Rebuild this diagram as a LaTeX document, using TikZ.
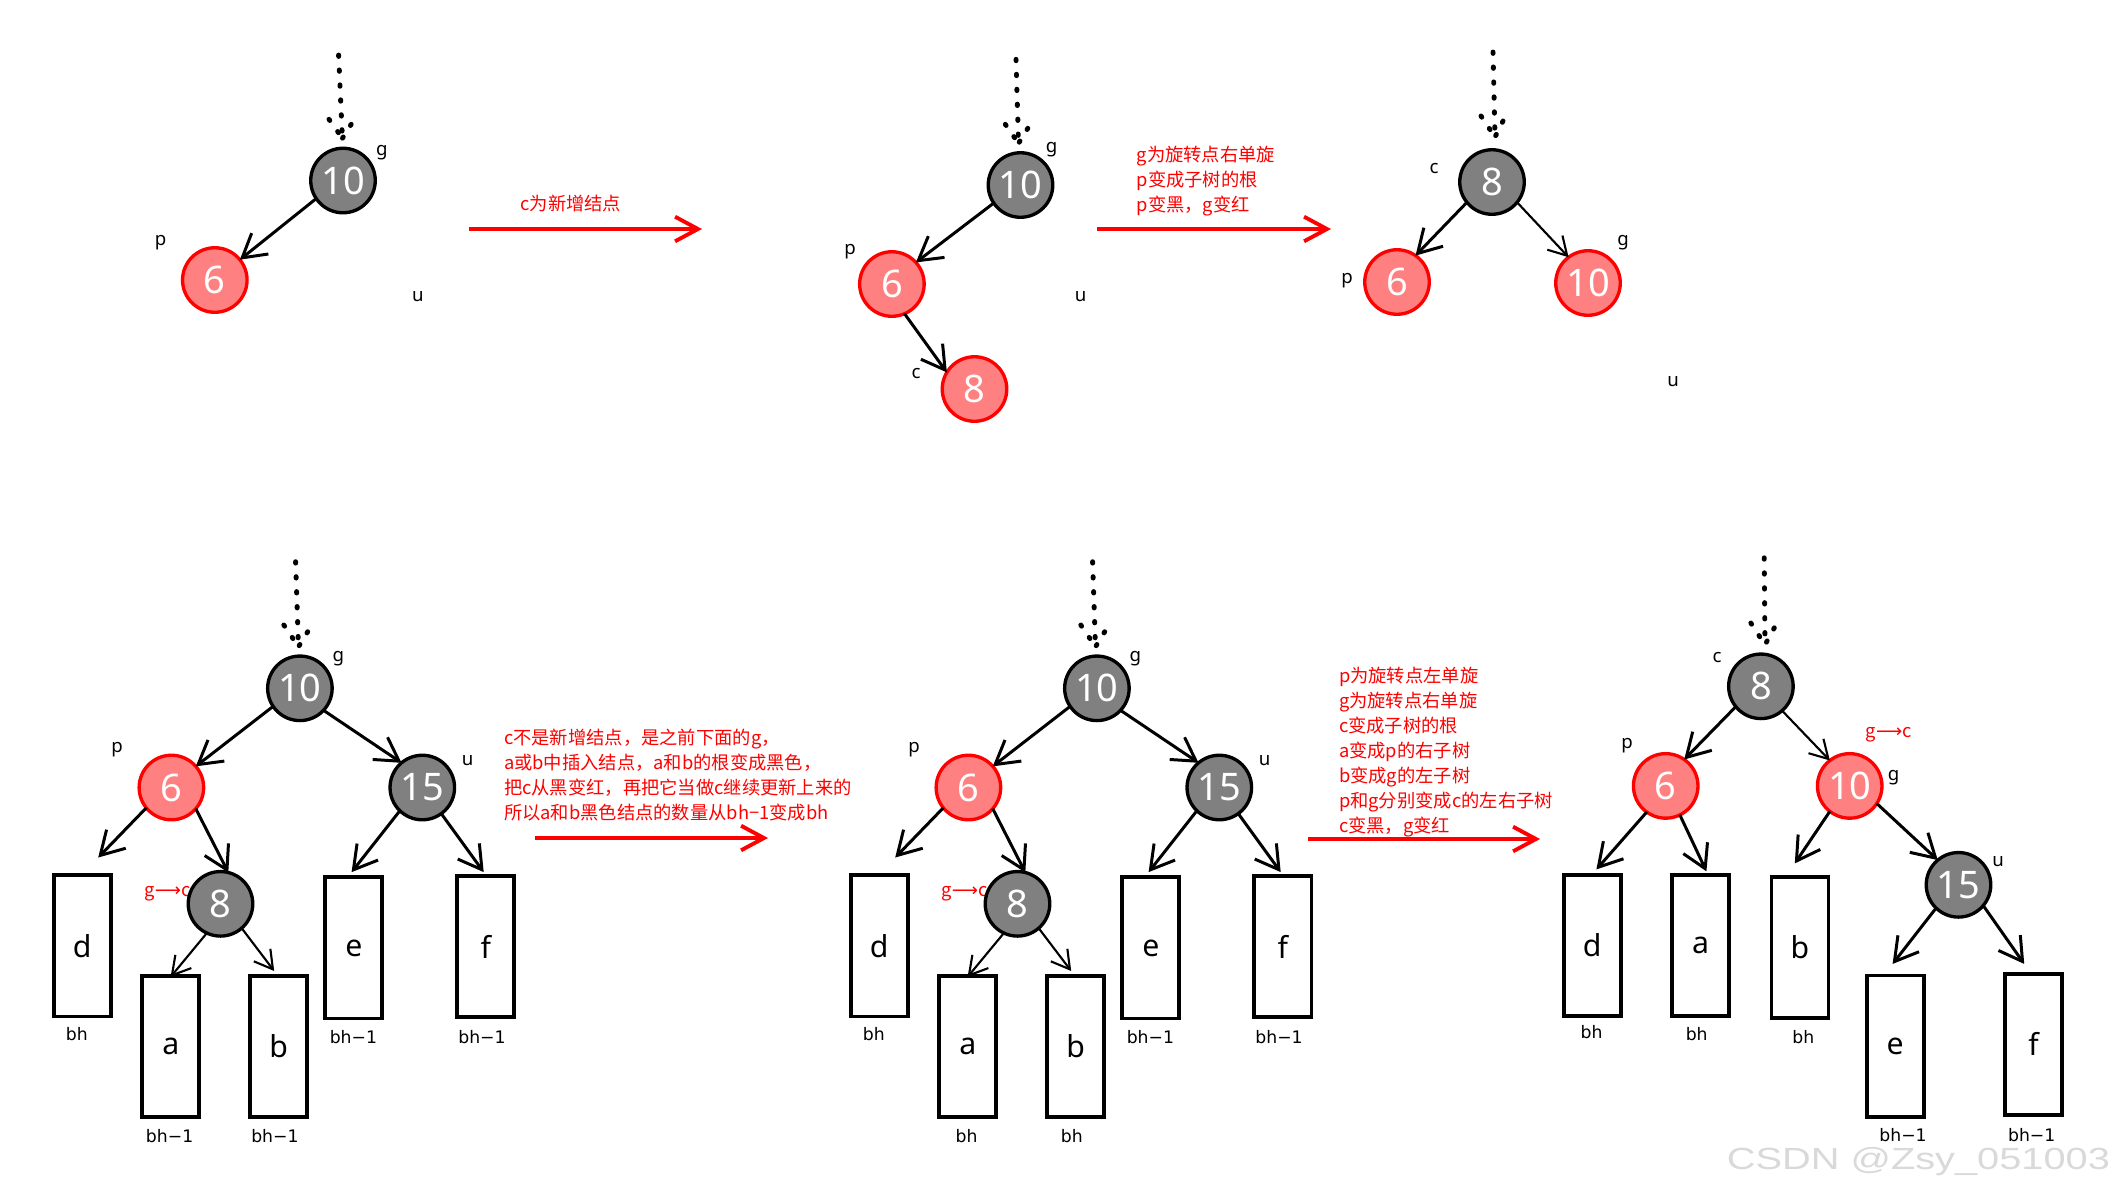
\documentclass[tikz,border=0pt]{standalone}
\usepackage{fontspec}
\setmainfont{Noto Sans}
\newfontfamily\cjk{Noto Sans CJK SC}
\newfontfamily\dejavu{DejaVu Sans}
\newfontfamily\libsans{Liberation Sans}
\usetikzlibrary{shapes.geometric,arrows.meta}
\definecolor{ngray}{HTML}{808080}
\definecolor{nred}{HTML}{FF8080}
\newcommand\fNum{\fontsize{10.8pt}{12pt}\selectfont}
\newcommand\fLab{\fontsize{5.3pt}{6pt}\selectfont}
\newcommand\fBox{\fontsize{8.6pt}{10pt}\selectfont}
\newcommand\fBh{\dejavu\fontsize{4.9pt}{5.5pt}\selectfont}
\newcommand\fRed{\cjk\fontsize{5.2pt}{6pt}\selectfont}
\newcommand\gtoc{g{\dejavu⟶}c}
\newcommand\botTreeA[1]{%
 \coordinate (top) at (295.6,561.7); \coordinate (tip) at (298.5,646.8);
 \coordinate (hl) at (283.8,625); \coordinate (hr) at (307.7,631.7);
 \draw[dotline] (top) -- (tip); \draw[dotline] (hl) -- (tip); \draw[dotline] (hr) -- (tip);
 \node[redlab,anchor=west] (gc) at (144.6,893.9) {\gtoc};
 \node[bn] (g) at (299.9,688.3) {10};
 \node[rn] (p) at (171.4,787.5) {6};
 \node[bn] (u) at (422.3,787.5) {15};
 \node[bn] (c) at (220.5,903.8) {8};
 \node[nlab] (lg) at (338.4,658.6) {g};
 \node[nlab] (lp) at (117.1,749.6) {p};
 \node[nlab] (lu) at (467.7,760.6) {u};
 \node[subtree] (d) at (82.1,945.9) {d};
 \node[subtree] (a) at (170.8,1046.2) {a};
 \node[subtree] (b) at (278.7,1046.2) {b};
 \node[subtree] (e) at (353.8,947.9) {e};
 \node[subtree] (f) at (485.9,946.6) {f};
 \node[bhlab] (bd) at (76.8,1034.3) {bh};
 \node[bhlab] (ba) at (169.6,1136.3) {#1};
 \node[bhlab] (bb) at (274.9,1136.3) {#1};
 \node[bhlab] (be) at (353.4,1037.4) {bh−1};
 \node[bhlab] (bf) at (482,1037.4) {bh−1};
 \coordinate (td) at (98.2,857.5); \coordinate (te) at (351.6,872.1);
 \coordinate (tf) at (483.7,872.1); \coordinate (ta) at (170.6,976.9);
 \coordinate (tb) at (274.2,971);
 \draw[arr] (g.214.6) -- (p.41.5);
 \draw[arr] (g.-43.5) -- (u.130.7);
 \draw[arr] (p.219.5) -- (td);
 \draw[arr] (p.-41.5) -- (c.76.6);
 \draw[arr] (u.226.4) -- (te);
 \draw[arr] (u.-54.4) -- (tf);
 \draw[arrthin] (c.245.8) -- (ta);
 \draw[arrthin] (c.-49) -- (tb);
}
\begin{document}
\begin{tikzpicture}[x=0.01cm,y=-0.01cm,
  every node/.style={inner sep=0pt,outer sep=0pt},
  bn/.style={circle,draw=black,fill=ngray,line width=0.95pt,text=white,minimum size=0.645cm,font=\fNum},
  rn/.style={circle,draw=red,fill=nred,line width=0.95pt,text=white,minimum size=0.645cm,font=\fNum},
  nlab/.style={font=\fLab},
  redlab/.style={font=\fRed,text=red},
  redtxt/.style={font=\fRed,text=red,anchor=base west},
  bhlab/.style={font=\fBh},
  subtree/.style={draw,rectangle,line width=1.1pt,minimum width=0.57cm,minimum height=1.41cm,font=\fBox},
  arr/.style={line width=0.85pt,-{Straight Barb[length=6.5pt,width=7.6pt]}},
  arrthin/.style={line width=0.6pt,-{Straight Barb[length=5.1pt,width=5.9pt]}},
  dotline/.style={line width=1.4pt,line cap=round,dash pattern=on 0.4pt off 3.85pt},
  redarrow/.style={draw=red,line width=1.1pt,-{Straight Barb[length=6.5pt,width=7pt]}},
]
\useasboundingbox (0,0) rectangle (2115,1202);

% ---------- top tree 1 ----------
\coordinate (t1a) at (338.6,55); \coordinate (t1b) at (342.4,138.3);
\coordinate (t1l) at (329,119.3); \coordinate (t1r) at (351.2,124.3);
\draw[dotline] (t1a) -- (t1b); \draw[dotline] (t1l) -- (t1b); \draw[dotline] (t1r) -- (t1b);
\node[bn] (T1g) at (343,180.5) {10};
\node[rn] (T1p) at (214.8,280) {6};
\node[nlab] (T1lg) at (381.8,152.7) {g};
\node[nlab] (T1lp) at (160.6,242.7) {p};
\node[nlab] (T1lu) at (417.8,296.7) {u};
\draw[arr] (T1g.214.6) -- (T1p.39.6);

% red arrow 1
\coordinate (R1a) at (468.7,229); \coordinate (R1b) at (702,229);
\draw[redarrow] (R1a) -- (R1b);
\node[redtxt] (R1t) at (520.4,210) {c为新增结点};

% ---------- top tree 2 ----------
\coordinate (t2a) at (1016,59.3); \coordinate (t2b) at (1018.5,143.3);
\coordinate (t2l) at (1005.3,124.3); \coordinate (t2r) at (1027.8,128.3);
\draw[dotline] (t2a) -- (t2b); \draw[dotline] (t2l) -- (t2b); \draw[dotline] (t2r) -- (t2b);
\node[bn] (T2g) at (1020.5,185) {10};
\node[rn] (T2p) at (891.9,284) {6};
\node[rn] (T2c) at (974.5,389) {8};
\node[nlab] (T2lg) at (1051.7,150) {g};
\node[nlab] (T2lp) at (850,251.7) {p};
\node[nlab] (T2lu) at (1080.6,296.7) {u};
\node[nlab] (T2lc) at (916,373.3) {c};
\draw[arr] (T2g.214.1) -- (T2p.42.8);
\draw[arr] (T2p.-67.7) -- (T2c.149.2);

% red arrow 2
\coordinate (R2a) at (1097,229); \coordinate (R2b) at (1331,229);
\draw[redarrow] (R2a) -- (R2b);
\node[redtxt] (R2t1) at (1136.7,161) {g为旋转点右单旋};
\node[redtxt] (R2t2) at (1136.7,186) {p变成子树的根};
\node[redtxt] (R2t3) at (1136.7,211) {p变黑，g变红};

% ---------- top tree 3 ----------
\coordinate (t3a) at (1493,52); \coordinate (t3b) at (1495,137);
\coordinate (t3l) at (1481,116); \coordinate (t3r) at (1503,121);
\draw[dotline] (t3a) -- (t3b); \draw[dotline] (t3l) -- (t3b); \draw[dotline] (t3r) -- (t3b);
\node[bn] (T3c) at (1492,182) {8};
\node[rn] (T3p) at (1397,282) {6};
\node[rn] (T3g) at (1588,283) {10};
\node[nlab] (T3lc) at (1434,168) {c};
\node[nlab] (T3lp) at (1347,281) {p};
\node[nlab] (T3lg) at (1623,243) {g};
\node[nlab] (T3lu) at (1673,382) {u};
\draw[arr] (T3c.219) -- (T3p.55);
\draw[arrthin] (T3c.-39) -- (T3g.127);

% ---------- bottom trees 1 and 2 ----------
\begin{scope}[name prefix=B1-]
\botTreeA{bh−1}
\end{scope}
\begin{scope}[name prefix=B2-,shift={(797,0)}]
\botTreeA{bh}
\end{scope}

% red arrow 3
\coordinate (R3a) at (535,838); \coordinate (R3b) at (768,838);
\draw[redarrow] (R3a) -- (R3b);
\node[redtxt] (R3t1) at (504,744) {c不是新增结点，是之前下面的g，};
\node[redtxt] (R3t2) at (504,769) {a或b中插入结点，a和b的根变成黑色，};
\node[redtxt] (R3t3) at (504,794) {把c从黑变红，再把它当做c继续更新上来的};
\node[redtxt] (R3t4) at (504,819) {所以a和b黑色结点的数量从bh−1变成bh};

% red arrow 4
\coordinate (R4a) at (1308,839); \coordinate (R4b) at (1540,839);
\draw[redarrow] (R4a) -- (R4b);
\foreach \t [count=\i] in {p为旋转点左单旋,g为旋转点右单旋,c变成子树的根,a变成p的右子树,b变成g的左子树,p和g分别变成c的左右子树,c变黑，g变红}
  \node[redtxt] (R4t\i) at (1339,{682+25*(\i-1)}) {\t};

% ---------- bottom tree 3 ----------
\coordinate (b3a) at (1764.2,557.8); \coordinate (b3b) at (1765,644.8);
\coordinate (b3l) at (1750.8,623); \coordinate (b3r) at (1774.3,627.8);
\draw[dotline] (b3a) -- (b3b); \draw[dotline] (b3l) -- (b3b); \draw[dotline] (b3r) -- (b3b);
\node[bn] (B3c) at (1760.9,686.3) {8};
\node[rn] (B3p) at (1665.7,785.9) {6};
\node[rn] (B3g) at (1849.7,785.9) {10};
\node[bn] (B3u) at (1958.5,884.8) {15};
\node[nlab] (B3lc) at (1717.2,657.8) {c};
\node[nlab] (B3lp) at (1627,745.6) {p};
\node[nlab] (B3lg) at (1893.7,777.2) {g};
\node[nlab] (B3lu) at (1998.1,861.1) {u};
\node[redlab] (B3gc) at (1888.8,734.9) {\gtoc};
\node[subtree] (B3d) at (1592.1,945.5) {d};
\node[subtree] (B3a) at (1700.7,945.5) {a};
\node[subtree] (B3b) at (1800,947.3) {b};
\node[subtree] (B3e) at (1895.2,1046) {e};
\node[subtree] (B3f) at (2033.6,1044.4) {f};
\node[bhlab] (B3bd) at (1591.5,1032.3) {bh};
\node[bhlab] (B3ba) at (1696.7,1034.3) {bh};
\node[bhlab] (B3bb) at (1803.4,1037.4) {bh};
\node[bhlab] (B3be) at (1903,1135.1) {bh−1};
\node[bhlab] (B3bf) at (2031.7,1135.1) {bh−1};
\coordinate (B3td) at (1596.4,869.4); \coordinate (B3ta) at (1706.4,871.3);
\coordinate (B3tb) at (1794.8,863.4); \coordinate (B3te) at (1892.6,963.9);
\coordinate (B3tf) at (2024.2,963.9);
\draw[arr] (B3c.219.7) -- (B3p.55.4);
\draw[arrthin] (B3c.-49.8) -- (B3g.128.6);
\draw[arr] (B3p.234.8) -- (B3td);
\draw[arr] (B3p.-64.3) -- (B3ta);
\draw[arr] (B3g.232.9) -- (B3tb);
\draw[arr] (B3g.-33.1) -- (B3u.130);
\draw[arr] (B3u.226.3) -- (B3te);
\draw[arr] (B3u.-40.8) -- (B3tf);

% watermark
\node[font=\libsans\fontsize{8.7pt}{10pt}\selectfont,text=gray!30,anchor=east] (wm) at (2110,1162) {\scalebox{1.3}[1]{CSDN @Zsy\_051003}};
\end{tikzpicture}
\end{document}
